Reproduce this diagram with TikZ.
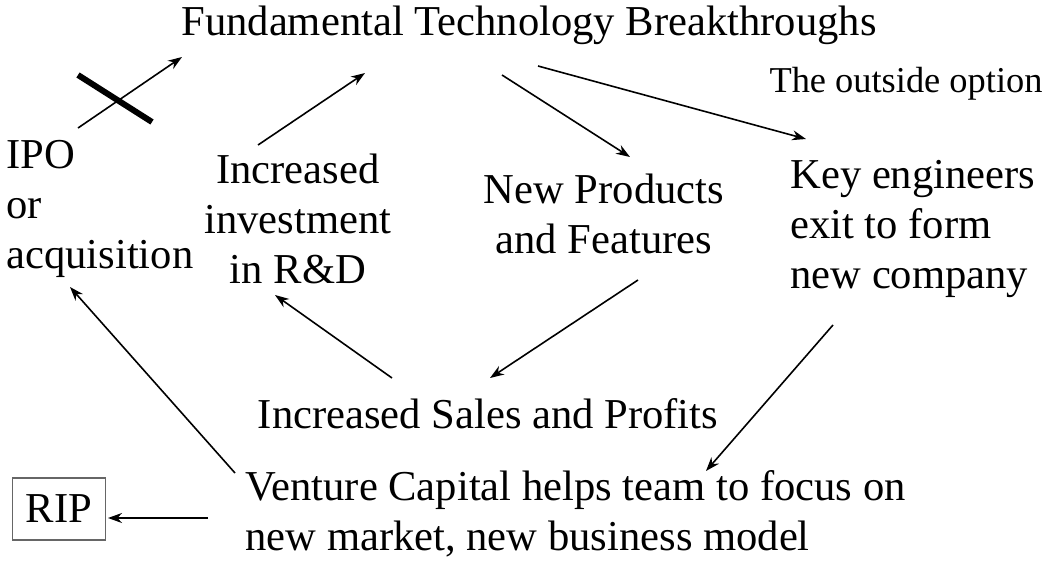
\documentclass[tikz,border=0pt]{standalone}
\usepackage{fontspec}
\setmainfont{Liberation Serif}
\usetikzlibrary{positioning,arrows.meta}
\tikzstyle{big}=[inner sep=0pt, font=\fontsize{21.3}{25}\selectfont]
\tikzstyle{small}=[inner sep=0pt, font=\fontsize{18.2}{22}\selectfont]
\tikzstyle{box}=[draw=black!60, line width=0.6pt, inner xsep=6.5pt, minimum height=31pt, font=\fontsize{21.3}{25}\selectfont]
\tikzstyle{link}=[-{Stealth[length=7pt,width=5pt]}, line width=0.8pt]

\begin{document}
\begin{tikzpicture}[x=0.5pt,y=-0.5pt]
	\useasboundingbox (0,0) rectangle (1046,562);
	% text blocks (base = last line)
	\node[big, anchor=base] (FTB) at (529,35) {Fundamental Technology Breakthroughs};
	\node[small, anchor=base] (OUT) at (906,92) {The outside option};
	\node[big, anchor=base west, align=left] (IPO) at (6,268) {IPO\\or\\acquisition};
	\node[big, anchor=base, align=center] (RD) at (298,283) {Increased\\investment\\in R\&D};
	\node[big, anchor=base, align=center] (NP) at (604,253) {New Products\\and Features};
	\node[big, anchor=base west, align=left] (KE) at (790,288) {Key engineers\\exit to form\\new company};
	\node[big, anchor=base] (ISP) at (488,428) {Increased Sales and Profits};
	\node[big, anchor=base west, align=left] (VC) at (245,550) {Venture Capital helps team to focus on\\new market, new business model};
	\node[box] (RIP) at (59,509) {RIP};

	% arrow ends
	\coordinate (ipoS) at (78,128);   \coordinate (ipoE) at (182,57);
	\coordinate (rdS) at (258,145);   \coordinate (rdE) at (365,73);
	\coordinate (npS) at (502,75);    \coordinate (npE) at (630,157);
	\coordinate (keS) at (538,66);    \coordinate (keE) at (806,139);
	\coordinate (spS) at (638,280);   \coordinate (spE) at (490,378);
	\coordinate (invS) at (392,378);  \coordinate (invE) at (275,295);
	\coordinate (acqS) at (235,473);  \coordinate (acqE) at (70,287);
	\coordinate (vcS) at (833,325);   \coordinate (vcE) at (706,471);
	\coordinate (ripS) at (208,518);  \coordinate (ripE) at (108,518);
	\coordinate (crossA) at (78,75);  \coordinate (crossB) at (152,122);

	\draw[link] (ipoS) -- (ipoE);
	\draw[link] (rdS) -- (rdE);
	\draw[link] (npS) -- (npE);
	\draw[link] (keS) -- (keE);
	\draw[link] (spS) -- (spE);
	\draw[link] (invS) -- (invE);
	\draw[link] (acqS) -- (acqE);
	\draw[link] (vcS) -- (vcE);
	\draw[link] (ripS) -- (ripE);
	\draw[line width=3pt] (crossA) -- (crossB);
\end{tikzpicture}
\end{document}
